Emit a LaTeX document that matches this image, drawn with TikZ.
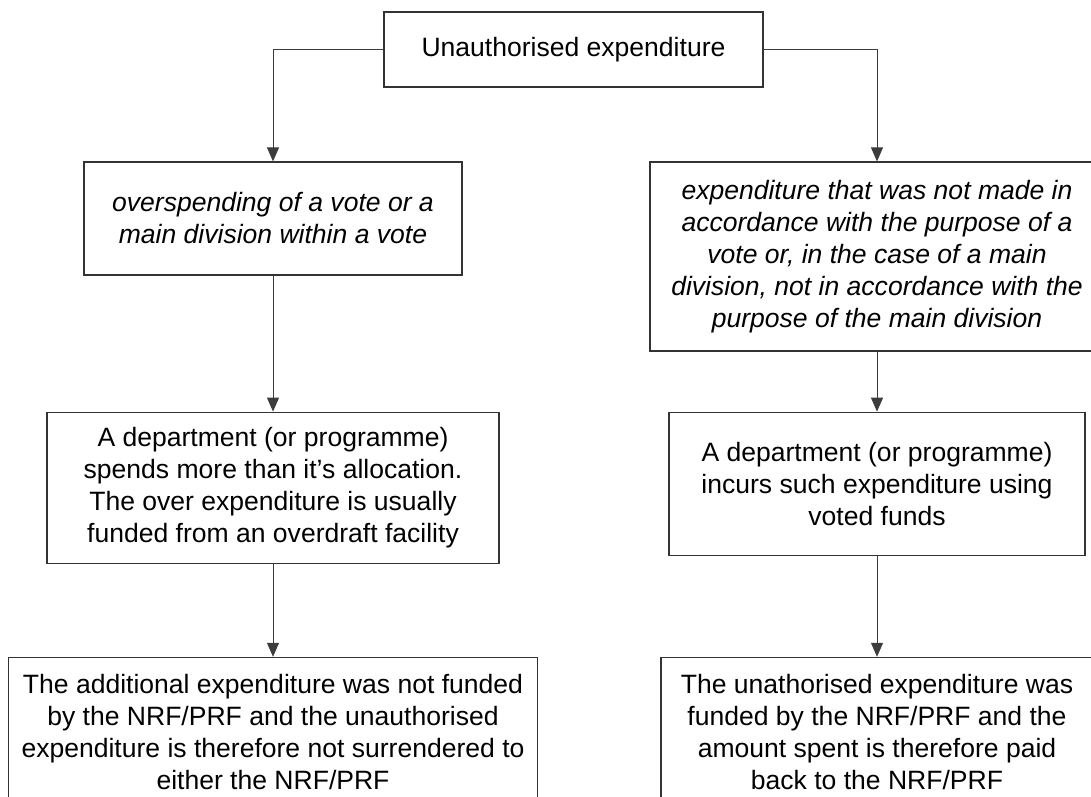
\documentclass[tikz,border=0pt]{standalone}
\usepackage{fontspec}
\setmainfont{Liberation Sans}
\usepackage{xcolor}
\definecolor{BoxLine}{RGB}{51,51,51}
\definecolor{LinkGray}{RGB}{60,60,60}
\usepackage{tikz}
\usetikzlibrary{
    arrows.meta,
    positioning
}

\begin{document}
\begin{tikzpicture}[
    x=0.75pt,
    y=-0.75pt,
%
    stage/.style={
        draw=BoxLine,
        line width=0.9pt,
        inner sep=0pt,
        align=center,
        font=\fontsize{19.9pt}{24pt}\selectfont
    },
%
    rule/.style={
        stage,
        font=\fontsize{19.9pt}{24pt}\selectfont\itshape
    },
%
    arrow/.style={
        -{Triangle[length=10.5pt,width=9pt]},
        line width=0.75pt,
        color=LinkGray
    }
]
\useasboundingbox (0,0) rectangle (1091,796);
%
\node[
    stage,
    minimum width=284.25pt,
    minimum height=56.25pt
] (unauth) at (573.5,49.5) {Unauthorised expenditure};
%
% Left branch: overspending of the vote.
%
\node[
    rule,
    minimum width=283.5pt,
    minimum height=84.75pt
] (overspend) at (273,218.5) {
    overspending of a vote or a\\
    main division within a vote
};
\node[
    stage,
    minimum width=339pt,
    minimum height=113.25pt,
    below=102pt of overspend
] (deptover) {
    A department (or programme)\\
    spends more than it’s allocation.\\
    The over expenditure is usually\\
    funded from an overdraft facility
};
\node[
    stage,
    minimum width=396.75pt,
    minimum height=112.5pt,
    below=69.75pt of deptover
] (notfunded) {
    The additional expenditure was not funded\\
    by the NRF/PRF and the unauthorised\\
    expenditure is therefore not surrendered to\\
    either the NRF/PRF
};
%
% Right branch: spending against the purpose of the vote.
%
\node[
    rule,
    minimum width=340.5pt,
    minimum height=141.75pt
] (purpose) at (877,256.5) {
    expenditure that was not made in\\
    accordance with the purpose of a\\
    vote or, in the case of a main\\
    division, not in accordance with the\\
    purpose of the main division
};
\node[
    stage,
    minimum width=312pt,
    minimum height=107.25pt,
    below=45pt of purpose
] (deptpurpose) {
    A department (or programme)\\
    incurs such expenditure using\\
    voted funds
};
\node[
    stage,
    minimum width=324pt,
    minimum height=112.5pt,
    below=75.75pt of deptpurpose
] (paidback) {
    The unathorised expenditure was\\
    funded by the NRF/PRF and the\\
    amount spent is therefore paid\\
    back to the NRF/PRF
};
%
\draw[arrow] (unauth.west) -| (overspend.north);
\draw[arrow] (unauth.east) -| (purpose.north);
\draw[arrow] (overspend) -- (deptover);
\draw[arrow] (deptover) -- (notfunded);
\draw[arrow] (purpose) -- (deptpurpose);
\draw[arrow] (deptpurpose) -- (paidback);
%
\end{tikzpicture}
\end{document}
